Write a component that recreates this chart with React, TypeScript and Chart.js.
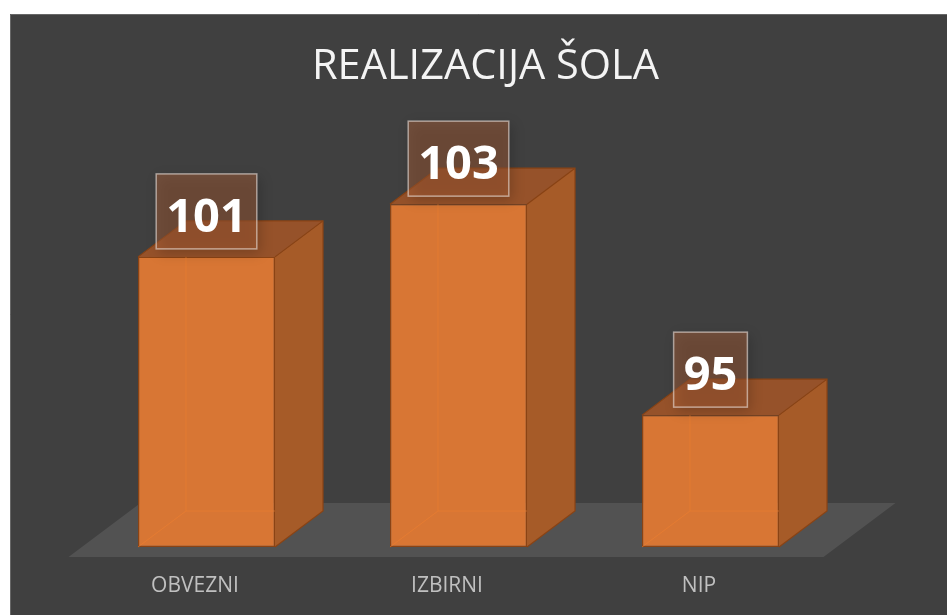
import React, { useEffect, useRef } from "react";
import { Chart, registerables } from "chart.js";

Chart.register(...registerables);

const chartTitle = "REALIZACIJA ŠOLA";
const categories = ["OBVEZNI", "IZBIRNI", "NIP"];
const values = [101, 103, 95];
const yMin = 90;
const yMax = 105;

const DX = 48;
const DY = 36;

function poly(ctx: CanvasRenderingContext2D, pts: number[][]) {
  ctx.beginPath();
  ctx.moveTo(pts[0][0], pts[0][1]);
  for (let i = 1; i < pts.length; i++) ctx.lineTo(pts[i][0], pts[i][1]);
  ctx.closePath();
}

const box3d = {
  id: "box3d",
  beforeDraw(chart: any) {
    const { ctx, width, height } = chart;
    ctx.save();
    ctx.strokeStyle = "#676767";
    ctx.lineWidth = 1;
    ctx.beginPath();
    ctx.moveTo(0.5, height);
    ctx.lineTo(0.5, 0.5);
    ctx.lineTo(width, 0.5);
    ctx.stroke();
    ctx.restore();
  },
  beforeDatasetsDraw(chart: any) {
    const { ctx, chartArea } = chart;
    const fy = chartArea.bottom + 10;
    const fl = chartArea.left - 12;
    const fr = chartArea.right - 13;
    ctx.save();
    ctx.fillStyle = "#525252";
    poly(ctx, [
      [fl, fy],
      [fr, fy],
      [fr + 72, fy - 54],
      [fl + 72, fy - 54],
    ]);
    ctx.fill();
    const meta = chart.getDatasetMeta(0);
    meta.data.forEach((bar: any) => {
      const { x, y, base, width } = bar.getProps(["x", "y", "base", "width"], true);
      const l = x - width / 2;
      const r = x + width / 2;
      ctx.fillStyle = "#a65b28";
      poly(ctx, [
        [r, y],
        [r + DX, y - DY],
        [r + DX, base - DY],
        [r, base],
      ]);
      ctx.fill();
      ctx.fillStyle = "#96522a";
      poly(ctx, [
        [l, y],
        [r, y],
        [r + DX, y - DY],
        [l + DX, y - DY],
      ]);
      ctx.fill();
    });
    ctx.restore();
  },
  afterDatasetsDraw(chart: any) {
    const { ctx } = chart;
    const meta = chart.getDatasetMeta(0);
    ctx.save();
    meta.data.forEach((bar: any) => {
      const { x, y, base, width } = bar.getProps(["x", "y", "base", "width"], true);
      const l = x - width / 2;
      const r = x + width / 2;
      // hidden back edges seen through the translucent front
      ctx.strokeStyle = "rgba(238,128,48,0.55)";
      ctx.lineWidth = 1;
      ctx.beginPath();
      ctx.moveTo(l, base);
      ctx.lineTo(l + DX, base - DY);
      ctx.lineTo(r, base - DY);
      ctx.moveTo(l + DX, base - DY);
      ctx.lineTo(l + DX, y);
      ctx.stroke();
      // visible outline edges
      ctx.strokeStyle = "#8a4314";
      ctx.lineWidth = 1.2;
      ctx.beginPath();
      ctx.moveTo(l, y);
      ctx.lineTo(l + DX, y - DY);
      ctx.lineTo(r + DX, y - DY);
      ctx.lineTo(r + DX, base - DY);
      ctx.lineTo(r, base);
      ctx.moveTo(r, y);
      ctx.lineTo(r + DX, y - DY);
      ctx.stroke();
    });
    // data labels
    meta.data.forEach((bar: any, i: number) => {
      const { x, y } = bar.getProps(["x", "y"], true);
      const text = String(values[i]);
      ctx.font = "bold 47px 'Open Sans'";
      const tw = ctx.measureText(text).width;
      const bw = tw + 20;
      const bh = 75;
      const bx = x - bw / 2;
      const by = y - 8 - bh;
      ctx.save();
      ctx.shadowColor = "rgba(0,0,0,0.45)";
      ctx.shadowBlur = 12;
      ctx.shadowOffsetX = 3;
      ctx.shadowOffsetY = 4;
      ctx.fillStyle = "rgba(170,95,55,0.45)";
      ctx.fillRect(bx, by, bw, bh);
      ctx.restore();
      ctx.strokeStyle = "rgba(235,225,220,0.6)";
      ctx.lineWidth = 1.5;
      ctx.strokeRect(bx, by, bw, bh);
      ctx.fillStyle = "#ffffff";
      ctx.textAlign = "center";
      ctx.textBaseline = "alphabetic";
      ctx.fillText(text, x, by + bh - 17);
    });
    ctx.restore();
  },
};

export default function App() {
  const ref = useRef<HTMLCanvasElement | null>(null);
  useEffect(() => {
    if (!ref.current) return;
    const chart = new Chart(ref.current, {
      type: "bar",
      data: {
        labels: categories,
        datasets: [
          {
            data: values,
            base: yMin,
            backgroundColor: "#d87634",
            borderColor: "#8a4314",
            borderWidth: 1.2,
            borderSkipped: false,
            categoryPercentage: 1,
            barPercentage: 0.5437,
          },
        ],
      },
      options: {
        animation: false,
        responsive: false,
        layout: { padding: { left: 14, right: 0, top: 0, bottom: 0 } },
        plugins: {
          legend: { display: false },
          tooltip: { enabled: false },
          title: {
            display: true,
            text: chartTitle,
            color: "#f4f4f4",
            font: { family: "'Open Sans'", size: 41.5, weight: "normal", lineHeight: 1.2 },
            padding: { top: 28.6, bottom: 59 },
          },
        },
        scales: {
          x: {
            grid: { display: false, drawTicks: false },
            border: { display: false },
            ticks: {
              color: "#c0c0c0",
              font: { family: "'Open Sans'", size: 21, lineHeight: 1.2 },
              padding: 26,
              labelOffset: -11.5,
            },
            afterFit: (scale: any) => {
              scale.height = 68;
            },
          },
          y: {
            position: "left",
            min: yMin,
            max: yMax,
            grid: { display: false, drawTicks: false },
            border: { display: false },
            ticks: { display: false },
            afterFit: (scale: any) => {
              scale.width = 56.5;
            },
          },
          yRight: {
            position: "right",
            min: yMin,
            max: yMax,
            grid: { display: false, drawTicks: false },
            border: { display: false },
            ticks: { display: false },
            afterFit: (scale: any) => {
              scale.width = 110.5;
            },
          },
        },
      },
      plugins: [box3d],
    });
    return () => chart.destroy();
  }, []);
  return (
    <div
      style={{
        position: "fixed",
        left: 10,
        top: 14,
        width: 937,
        height: 601,
        background: "#404040",
      }}
    >
      <canvas ref={ref} width={937} height={601} style={{ display: "block" }} />
    </div>
  );
}
